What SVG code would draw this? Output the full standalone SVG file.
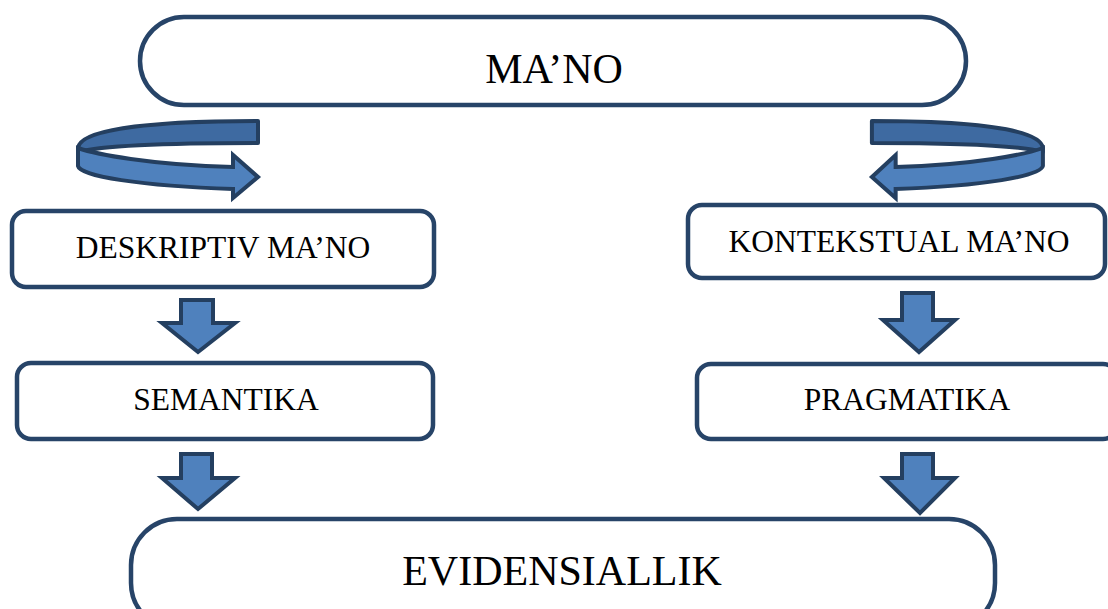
<svg xmlns="http://www.w3.org/2000/svg" width="1108" height="609" viewBox="0 0 1108 609">
<style>
.box{fill:#ffffff;stroke:#274468;stroke-width:4.5}
.t{font-family:"Liberation Serif","Times New Roman",serif;fill:#000;text-anchor:middle}
.big{font-size:42px}
.mid{font-size:31.5px}
.arr{fill:#4f81bd;stroke:#243f60;stroke-width:4;stroke-linejoin:miter}
.back{fill:#3e6aa1;stroke:#243f60;stroke-width:4;stroke-linejoin:round}
.front{fill:#4f81bd;stroke:#243f60;stroke-width:4;stroke-linejoin:miter}
</style>
<rect width="1108" height="609" fill="#ffffff"/>
<g id="connectors">
  <g id="curl-left">
    <path class="back" d="M258,121 C160,121 80,128 78,148 L78,152 C100,146 170,143 258,143 Z"/>
    <path class="front" d="M78,148 L78,166 C80,176 140,186 233,189 L233,198 L258,177 L233,155 L233,167 C150,165 95,154 78,148 Z"/>
  </g>
  <g id="curl-right" transform="matrix(-0.95,0,0,1,1117,0)">
    <path class="back" vector-effect="non-scaling-stroke" d="M258,121 C160,121 80,128 78,148 L78,152 C100,146 170,143 258,143 Z"/>
    <path class="front" vector-effect="non-scaling-stroke" d="M78,148 L78,166 C80,176 140,186 233,189 L233,198 L258,177 L233,155 L233,167 C150,165 95,154 78,148 Z"/>
  </g>
  <path class="arr" d="M181,300 L213,300 L213,323 L235,323 L198,352 L162,323 L181,323 Z"/>
  <path class="arr" d="M181,454 L212,454 L212,478 L235,478 L198,509 L162,478 L181,478 Z"/>
  <path class="arr" d="M902,293 L933,293 L933,320 L955,320 L919,352 L883,320 L902,320 Z"/>
  <path class="arr" d="M902,454 L933,454 L933,478 L955,478 L920,513 L884,478 L902,478 Z"/>
</g>
<g id="node-mano">
  <rect class="box" x="140" y="17" width="826" height="88" rx="44" ry="44"/>
  <text class="t big" x="554" y="83">MA’NO</text>
</g>
<g id="node-deskriptiv">
  <rect class="box" x="12" y="211" width="422" height="76" rx="14" ry="14"/>
  <text class="t mid" x="223" y="258">DESKRIPTIV MA’NO</text>
</g>
<g id="node-kontekstual">
  <rect class="box" x="688" y="205" width="417" height="73" rx="14" ry="14"/>
  <text class="t mid" x="899" y="252">KONTEKSTUAL MA’NO</text>
</g>
<g id="node-semantika">
  <rect class="box" x="17" y="363" width="416" height="76" rx="14" ry="14"/>
  <text class="t mid" x="226" y="410">SEMANTIKA</text>
</g>
<g id="node-pragmatika">
  <rect class="box" x="697" y="364" width="420" height="75" rx="14" ry="14"/>
  <text class="t mid" x="907" y="410">PRAGMATIKA</text>
</g>
<g id="node-evidensiallik">
  <rect class="box" x="131" y="519" width="864" height="110" rx="46" ry="46"/>
  <text class="t big" x="562" y="585">EVIDENSIALLIK</text>
</g>
</svg>
